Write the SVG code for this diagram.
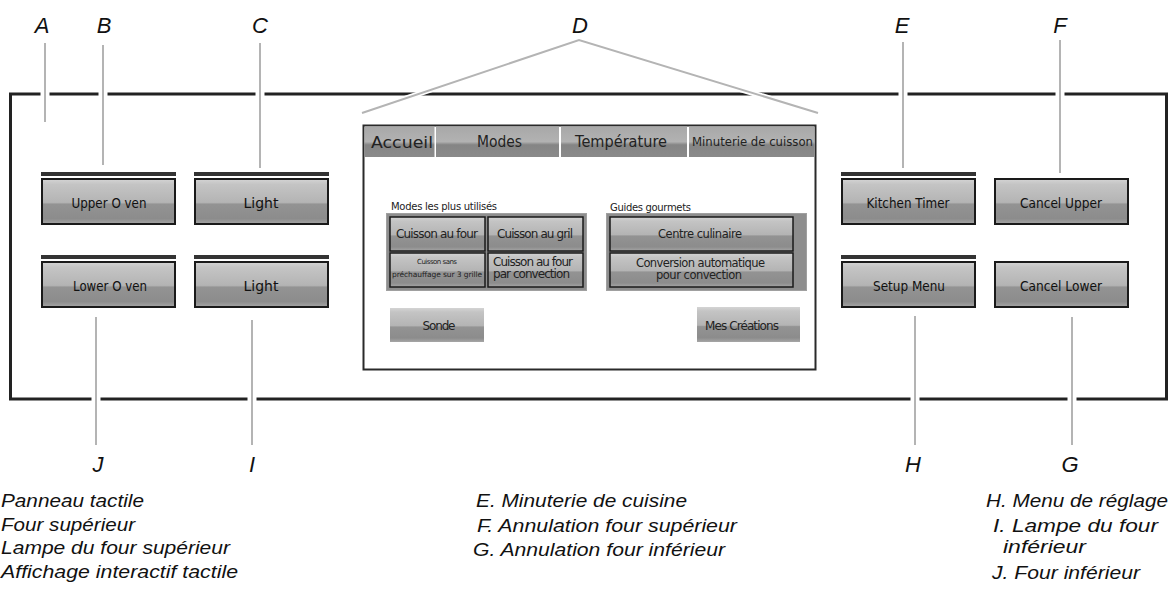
<svg xmlns="http://www.w3.org/2000/svg" width="1174" height="589" viewBox="0 0 1174 589">
<defs>
<linearGradient id="btn" x1="0" y1="0" x2="0" y2="1">
<stop offset="0" stop-color="#d4d4d4"/>
<stop offset="0.12" stop-color="#c4c4c4"/>
<stop offset="0.52" stop-color="#b4b4b4"/>
<stop offset="0.56" stop-color="#939393"/>
<stop offset="0.88" stop-color="#8c8c8c"/>
<stop offset="1" stop-color="#a6a6a6"/>
</linearGradient>
<linearGradient id="tab" x1="0" y1="0" x2="0" y2="1">
<stop offset="0" stop-color="#a8a8a8"/>
<stop offset="0.5" stop-color="#b2b2b2"/>
<stop offset="0.6" stop-color="#858585"/>
<stop offset="1" stop-color="#8a8a8a"/>
</linearGradient>
</defs>
<style>
.frame{fill:none;stroke:#222;stroke-width:3}
.bar{fill:#333}
.btn{fill:url(#btn);stroke:#1a1a1a;stroke-width:2}
.sbtn{fill:url(#btn);stroke:#1a1a1a;stroke-width:1.5}
.flat{fill:url(#btn)}
.tab{fill:url(#tab)}
.grp{fill:#8e8e8e;stroke:#a0a0a0;stroke-width:1}
.bt{font-family:"DejaVu Sans",sans-serif;font-size:14px;fill:#111;text-anchor:middle}
.st{font-family:"DejaVu Sans",sans-serif;fill:#222}
.lbl{font-family:"Liberation Sans",Arial,sans-serif;font-style:italic;font-size:22px;fill:#111;text-anchor:middle}
.leg{font-family:"Liberation Sans",Arial,sans-serif;font-style:italic;font-size:17.5px;fill:#111}
.halo{stroke:#fff;fill:none}
.ld{stroke:#b4b4b4;stroke-width:2;fill:none}
</style>
<rect width="1174" height="589" fill="#fff"/>
<g id="panel">
<rect class="frame" x="10.5" y="94" width="1156" height="305"/>
</g>
<g id="upper-oven">
<rect class="bar" x="41" y="172" width="135" height="4"/>
<rect class="btn" x="42" y="179" width="133" height="45"/>
<text class="bt" x="109" y="208" textLength="75" lengthAdjust="spacingAndGlyphs">Upper O ven</text>
</g>
<g id="light-upper">
<rect class="bar" x="194" y="172" width="135" height="4"/>
<rect class="btn" x="195" y="179" width="133" height="45"/>
<text class="bt" x="261" y="208">Light</text>
</g>
<g id="lower-oven">
<rect class="bar" x="41" y="255" width="135" height="4"/>
<rect class="btn" x="42" y="262" width="133" height="45"/>
<text class="bt" x="110" y="291" textLength="74" lengthAdjust="spacingAndGlyphs">Lower O ven</text>
</g>
<g id="light-lower">
<rect class="bar" x="194" y="255" width="135" height="4"/>
<rect class="btn" x="195" y="262" width="133" height="45"/>
<text class="bt" x="261" y="291">Light</text>
</g>
<g id="kitchen-timer">
<rect class="bar" x="841" y="172" width="135" height="4"/>
<rect class="btn" x="842" y="179" width="133" height="45"/>
<text class="bt" x="908" y="208" textLength="83" lengthAdjust="spacingAndGlyphs">Kitchen Timer</text>
</g>
<g id="cancel-upper">
<rect class="btn" x="995" y="179" width="133" height="45"/>
<text class="bt" x="1061" y="208" textLength="82" lengthAdjust="spacingAndGlyphs">Cancel Upper</text>
</g>
<g id="setup-menu">
<rect class="bar" x="841" y="255" width="135" height="4"/>
<rect class="btn" x="842" y="262" width="133" height="45"/>
<text class="bt" x="909" y="291" textLength="72" lengthAdjust="spacingAndGlyphs">Setup Menu</text>
</g>
<g id="cancel-lower">
<rect class="btn" x="995" y="262" width="133" height="45"/>
<text class="bt" x="1061" y="291" textLength="82" lengthAdjust="spacingAndGlyphs">Cancel Lower</text>
</g>
<g id="display">
<rect x="363.5" y="125.5" width="452" height="244" fill="#fff" stroke="#2a2a2a" stroke-width="2"/>
<rect class="tab" x="364.5" y="126.5" width="70" height="30.5"/>
<rect class="tab" x="436" y="126.5" width="123" height="30.5"/>
<rect class="tab" x="561" y="126.5" width="126" height="30.5"/>
<rect class="tab" x="689" y="126.5" width="125.5" height="30.5"/>
<text class="st" x="371" y="148" font-size="16" textLength="62" lengthAdjust="spacingAndGlyphs">Accueil</text>
<text class="st" x="477" y="147" font-size="16" textLength="45" lengthAdjust="spacingAndGlyphs">Modes</text>
<text class="st" x="575" y="147" font-size="16" textLength="92" lengthAdjust="spacingAndGlyphs">Température</text>
<text class="st" x="692" y="146" font-size="11.5" textLength="121" lengthAdjust="spacingAndGlyphs">Minuterie de cuisson</text>
<text class="st" x="391" y="210" font-size="10" textLength="106">Modes les plus utilisés</text>
<rect class="grp" x="386.5" y="213.5" width="200" height="77"/>
<rect class="sbtn" x="390" y="217" width="95" height="34"/>
<rect class="sbtn" x="488" y="217" width="95" height="34"/>
<rect class="sbtn" x="390" y="253" width="95" height="34"/>
<rect class="sbtn" x="488" y="253" width="95" height="34"/>
<text class="st" x="396" y="238" font-size="12" textLength="82">Cuisson au four</text>
<text class="st" x="497" y="238" font-size="12" textLength="76">Cuisson au gril</text>
<text class="st" x="437" y="264" font-size="7" text-anchor="middle" textLength="40">Cuisson sans</text>
<text class="st" x="392" y="277" font-size="7.5" textLength="90">préchauffage sur 3 grille</text>
<text class="st" x="493" y="266" font-size="12" textLength="80">Cuisson au four</text>
<text class="st" x="493" y="278" font-size="12" textLength="77">par convection</text>
<text class="st" x="610" y="211" font-size="10" textLength="81">Guides gourmets</text>
<rect class="grp" x="606.5" y="213.5" width="200" height="77"/>
<rect class="sbtn" x="610" y="217" width="183" height="34"/>
<rect class="sbtn" x="610" y="253" width="183" height="34"/>
<text class="st" x="700" y="238" font-size="11.5" text-anchor="middle" textLength="84">Centre culinaire</text>
<text class="st" x="700.5" y="267" font-size="11.5" text-anchor="middle" textLength="129">Conversion automatique</text>
<text class="st" x="699" y="279" font-size="11.5" text-anchor="middle" textLength="86">pour convection</text>
<rect class="flat" x="390" y="308" width="94" height="34"/>
<text class="st" x="439" y="330" font-size="12" text-anchor="middle" textLength="33">Sonde</text>
<rect class="flat" x="697" y="307" width="103" height="35"/>
<text class="st" x="742" y="330" font-size="12" text-anchor="middle" textLength="74">Mes Créations</text>
</g>
<g id="connectors">
<g class="halo" stroke-width="9">
<line x1="45" y1="43" x2="45" y2="122"/>
<line x1="103" y1="45" x2="103" y2="165"/>
<line x1="260" y1="43" x2="260" y2="168"/>
<line x1="903" y1="42" x2="903" y2="168"/>
<line x1="1060" y1="40" x2="1060" y2="173"/>
<line x1="96" y1="317" x2="96" y2="445"/>
<line x1="252" y1="320" x2="252" y2="445"/>
<line x1="915" y1="316" x2="915" y2="445"/>
<line x1="1072" y1="317" x2="1072" y2="445"/>
</g>
<g class="halo" stroke-width="5.5">
<polyline points="362,113 579,40 818,113"/>
</g>
<g class="ld">
<line x1="45" y1="43" x2="45" y2="122"/>
<line x1="103" y1="45" x2="103" y2="165"/>
<line x1="260" y1="43" x2="260" y2="168"/>
<line x1="903" y1="42" x2="903" y2="168"/>
<line x1="1060" y1="40" x2="1060" y2="173"/>
<line x1="96" y1="317" x2="96" y2="445"/>
<line x1="252" y1="320" x2="252" y2="445"/>
<line x1="915" y1="316" x2="915" y2="445"/>
<line x1="1072" y1="317" x2="1072" y2="445"/>
<polyline points="362,113 579,40 818,113"/>
</g>
</g>
<g id="labels">
<text class="lbl" x="42" y="33">A</text>
<text class="lbl" x="104" y="33">B</text>
<text class="lbl" x="260" y="33">C</text>
<text class="lbl" x="580" y="33">D</text>
<text class="lbl" x="902" y="33">E</text>
<text class="lbl" x="1060" y="33">F</text>
<text class="lbl" x="98" y="472">J</text>
<text class="lbl" x="252" y="472">I</text>
<text class="lbl" x="913" y="472">H</text>
<text class="lbl" x="1070" y="472">G</text>
</g>
<g id="legend">
<text class="leg" x="1" y="507" textLength="143" lengthAdjust="spacingAndGlyphs">Panneau tactile</text>
<text class="leg" x="1" y="531" textLength="134" lengthAdjust="spacingAndGlyphs">Four supérieur</text>
<text class="leg" x="1" y="554" textLength="229" lengthAdjust="spacingAndGlyphs">Lampe du four supérieur</text>
<text class="leg" x="1" y="578" textLength="237" lengthAdjust="spacingAndGlyphs">Affichage interactif tactile</text>
<text class="leg" x="476" y="507" textLength="211" lengthAdjust="spacingAndGlyphs">E. Minuterie de cuisine</text>
<text class="leg" x="477" y="532" textLength="260" lengthAdjust="spacingAndGlyphs">F. Annulation four supérieur</text>
<text class="leg" x="473" y="556" textLength="252" lengthAdjust="spacingAndGlyphs">G. Annulation four inférieur</text>
<text class="leg" x="986" y="507" textLength="182" lengthAdjust="spacingAndGlyphs">H. Menu de réglage</text>
<text class="leg" x="993" y="532" textLength="165" lengthAdjust="spacingAndGlyphs">I. Lampe du four</text>
<text class="leg" x="1003" y="553" textLength="83" lengthAdjust="spacingAndGlyphs">inférieur</text>
<text class="leg" x="992" y="579" textLength="148" lengthAdjust="spacingAndGlyphs">J. Four inférieur</text>
</g>
</svg>
